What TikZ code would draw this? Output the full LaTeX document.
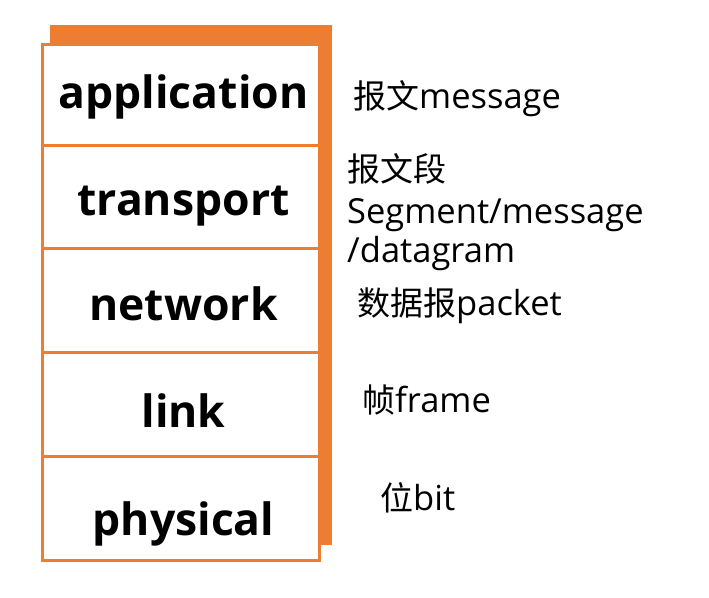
\documentclass[tikz,border=0pt]{standalone}
\usepackage{fontspec}
\setmainfont{Open Sans}
\newfontfamily\cjk{Noto Sans CJK SC}
\definecolor{accent}{HTML}{ED7D31}
\newcommand{\cj}[1]{{\cjk\fontsize{33}{38}\selectfont #1}}
\begin{document}
\begin{tikzpicture}[x=1pt,y=-1pt,
  layertext/.style={font=\bfseries\fontsize{44.5}{50}\selectfont, anchor=base, inner sep=0pt},
  lab/.style={font=\fontsize{34.5}{38}\selectfont, anchor=base west, inner sep=0pt},
  edge/.style={draw=accent, line width=3pt}]
\useasboundingbox (0,0) rectangle (709,597);
% shadow
\fill[accent] (50,25) rectangle (332,545);
% stack
\draw[edge, fill=white] (42.5,44.5) rectangle (319.5,560);
\foreach \y in {145,248,352,456} \draw[edge] (42.5,\y) -- (319.5,\y);
% layer names
\node[layertext] (app) at (183.5,108) {application};
\node[layertext] (tra) at (183.5,215) {transport};
\node[layertext] (net) at (183.5,320) {network};
\node[layertext] (lnk) at (183.5,427) {link};
\node[layertext] (phy) at (183.5,535) {physical};
% PDU labels
\node[lab] (l1) at (353,108) {\cj{报文}message};
\node[lab] (l2a) at (347,181) {\cj{报文段}};
\node[lab] (l2b) at (347,223) {Segment/message};
\node[lab] (l2c) at (347,262) {/datagram};
\node[lab] (l3) at (357,315) {\cj{数据报}packet};
\node[lab] (l4) at (362,412) {\cj{帧}frame};
\node[lab] (l5) at (380,510) {\cj{位}bit};
\end{tikzpicture}
\end{document}
